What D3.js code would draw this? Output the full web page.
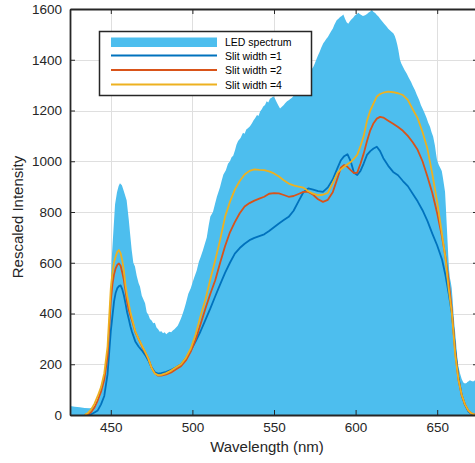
<!DOCTYPE html>
<html>
<head>
<meta charset="utf-8">
<script src="https://cdn.jsdelivr.net/npm/d3@7"></script>
<style>
  html, body { margin: 0; padding: 0; background: #fff; }
  svg { display: block; font-family: "Liberation Sans", Arial, sans-serif; }
</style>
</head>
<body>
<div id="chart"></div>
<script>
// ---------------- DATA ----------------
const xTicks = [450, 500, 550, 600, 650];
const yTicks = [0, 200, 400, 600, 800, 1000, 1200, 1400, 1600];

const legendLabels = ["LED spectrum", "Slit width =1", "Slit width =2", "Slit width =4"];

// LED spectrum (filled area)
const ledWavelength = [
  425,428,431,434,437,439,441,442.5,444,446,
  447.5,448.5,449.5,450.5,451.5,452.6,453.8,454.8,455.6,456.8,
  458,459.7,461,461.8,462.8,463.8,464.8,465.9,467,467.9,
  469,470,471,472,473,474,475,476,477,478,
  479,480,481,482,483,484,485,486,487,488,
  489,490,491,492,493,494,495,496,497.5,499,
  500,501,502.6,504,505,506.5,507.5,508.8,510,511,
  512.6,514,515,516.9,518,519,520.5,521.8,523,524,
  525,526.1,527,528,529.5,531,532,533,534,535.3,
  536.5,537.5,538.5,539.6,540.5,541.5,542.5,543.4,544.5,545.5,
  546.5,547.5,548.5,549.6,550.5,551.2,552.5,553.7,555,556,
  556.7,558,559,559.8,561,561.8,563,564,565,566,
  567,568,569,570,571,572,573,574.1,575,576,
  577,578,579,580.2,581,582,583,584.3,585,586,
  587,588.4,589.5,590.5,591.5,592.5,593.5,594.5,595.5,596.5,
  597.5,598.5,599.5,600.5,601.7,602.5,603.5,604.5,605.8,607,
  608,609,609.9,611,612,613,614,615,616.5,617.5,
  619.1,620,621,622,623.1,624,624.8,625.5,626.2,627.2,
  628,629,630,631.3,632.5,634,635,636.4,637.5,639,
  640,641.5,642.5,643.5,644.5,645.6,646.5,647.5,648.6,649.3,
  649.9,651,652,652.8,653.5,654.2,654.8,655.3,655.8,656.3,
  656.8,657.3,657.8,658.4,658.9,659.5,660,660.5,660.9,661.5,
  662,662.5,663,664,665,666,667,668,668.5,669.5,
  670,671,672,673,673.5,674.5,675
];
const ledIntensity = [
  35,33,31,28,27,30,40,70,118,155,
  240,330,420,610,715,830,878,902,913,905,
  882,846,770,716,650,600,585,548,520,505,
  470,455,440,405,395,378,372,362,364,345,
  338,328,330,322,326,318,324,328,326,333,
  338,345,352,366,380,398,418,440,478,500,
  520,540,568,605,622,650,672,700,748,782,
  800,835,860,898,925,948,965,990,1000,1016,
  1022,1043,1065,1080,1092,1112,1108,1125,1130,1138,
  1150,1162,1170,1182,1178,1196,1205,1216,1222,1236,
  1232,1246,1250,1256,1248,1238,1222,1208,1216,1222,
  1228,1236,1240,1244,1250,1256,1265,1276,1285,1294,
  1302,1312,1318,1330,1340,1352,1362,1372,1385,1402,
  1418,1432,1448,1465,1472,1482,1490,1504,1512,1522,
  1538,1556,1562,1568,1572,1578,1562,1548,1542,1552,
  1560,1566,1574,1578,1585,1580,1576,1572,1575,1580,
  1586,1590,1597,1588,1584,1576,1570,1562,1550,1542,
  1530,1522,1516,1510,1504,1494,1478,1460,1438,1400,
  1385,1372,1360,1346,1330,1312,1298,1280,1262,1240,
  1222,1201,1186,1170,1152,1136,1115,1098,1062,1030,
  1005,985,972,962,935,905,880,820,755,690,
  625,570,540,520,500,450,400,360,334,290,
  250,215,190,164,142,128,124,126,130,134,
  137,134,132,136,138,134,135
];

// Slit-width curves (shared wavelength grid)
const slitWavelength = [
  434,436,438,440,442,444,446,448,
  450,451,452,453,454,455,456,457,458,459,460,461,462,463,
  465,467,469,471,473,475,477,479,481,
  484,487,490,493,496,499,502,505,508,511,514,517,520,523,526,529,532,535,538,541,
  544,547,550,553,556,559,562,565,568,571,574,577,580,583,586,589,
  591,593,595,597,599,601,603,605,607,609,611,613,615,617,
  620,623,626,629,632,635,638,641,644,647,650,
  653,655,657,659,661,663,665,667,669,671,673
];
const slit1 = [
  0,0,3,10,18,42,75,160,
  330,390,448,482,500,508,511,496,472,440,405,378,350,327,
  290,270,255,237,215,187,168,163,165,
  170,178,188,200,223,255,290,330,375,420,468,515,560,600,636,658,675,689,698,705,
  712,725,740,755,768,781,805,842,878,893,888,882,879,897,928,975,
  1004,1020,1028,1000,955,946,962,992,1025,1040,1050,1057,1040,1012,
  982,958,945,922,902,872,842,807,765,715,668,
  612,552,480,400,260,150,80,40,15,4,0
];
const slit2 = [
  0,3,12,30,58,92,140,230,
  450,515,555,578,592,597,588,562,533,490,445,415,392,372,
  328,300,272,248,222,186,164,155,155,
  160,168,180,192,215,250,298,358,420,478,531,600,665,720,760,795,822,835,845,853,
  860,872,874,873,867,860,863,871,879,879,868,850,840,848,878,935,
  975,985,978,965,953,955,990,1031,1080,1122,1150,1168,1175,1172,
  1160,1148,1135,1120,1100,1075,1045,1000,940,875,795,
  700,625,530,410,250,140,78,42,18,6,2
];
const slit4 = [
  0,8,22,45,75,110,165,270,
  500,560,603,625,643,650,638,610,570,511,470,438,406,380,
  330,300,275,250,222,185,163,157,158,
  165,175,188,200,225,262,318,390,455,535,610,690,781,840,888,922,948,962,968,966,
  965,960,952,940,925,912,905,900,896,882,872,866,868,875,915,955,
  968,978,988,997,1010,1025,1060,1100,1160,1200,1228,1255,1265,1270,
  1274,1272,1268,1261,1242,1205,1170,1115,1050,950,840,
  710,620,500,400,240,140,80,42,18,6,2
];

// ---------------- DRAW ----------------
const W = 475, H = 463;
const pLeft = 70, pRight = 478, pTop = 9, pBottom = 415;
const ink = "#262626";
const fillColor = "#4DBEEE";
const lineColors = ["#0072BD", "#D95319", "#EDB120"];

const svg = d3.select("#chart").append("svg")
  .attr("width", W).attr("height", H);

svg.append("rect").attr("width", W).attr("height", H).attr("fill", "#fff");

const x = d3.scaleLinear().domain([425, 675]).range([pLeft, pRight]);
const y = d3.scaleLinear().domain([0, 1600]).range([pBottom, pTop]);

svg.append("defs").append("clipPath").attr("id", "plotclip")
  .append("rect").attr("x", pLeft).attr("y", pTop)
  .attr("width", pRight - pLeft).attr("height", pBottom - pTop);

// grid
const grid = svg.append("g").attr("stroke", "#dfdfdf").attr("stroke-width", 1);
xTicks.forEach(t => grid.append("line")
  .attr("x1", Math.round(x(t)) + 0.5).attr("x2", Math.round(x(t)) + 0.5)
  .attr("y1", pTop).attr("y2", pBottom));
yTicks.forEach(t => grid.append("line")
  .attr("y1", Math.round(y(t)) + 0.5).attr("y2", Math.round(y(t)) + 0.5)
  .attr("x1", pLeft).attr("x2", pRight));

const plot = svg.append("g").attr("clip-path", "url(#plotclip)");

const ledData = ledWavelength.map((w, i) => [w, ledIntensity[i]]);
plot.append("path")
  .datum(ledData)
  .attr("fill", fillColor)
  .attr("d", d3.area().x(d => x(d[0])).y0(y(0)).y1(d => y(d[1])));

const line = d3.line().x(d => x(d[0])).y(d => y(d[1]));
[slit1, slit2, slit4].forEach((s, k) => {
  plot.append("path")
    .datum(slitWavelength.map((w, i) => [w, s[i]]))
    .attr("fill", "none")
    .attr("stroke", lineColors[k])
    .attr("stroke-width", 1.8)
    .attr("stroke-linejoin", "round")
    .attr("d", line);
});

// axes
function styleAxis(g) {
  g.select(".domain").attr("stroke", ink).attr("stroke-width", 1.8);
  g.selectAll(".tick line").attr("stroke", ink).attr("stroke-width", 1);
  g.selectAll(".tick text").attr("fill", ink)
    .style("font-size", "13.5px")
    .style("font-family", '"Liberation Sans", Arial, sans-serif');
}
const fmt = d3.format("d");

svg.append("g").attr("transform", `translate(0,${pBottom})`)
  .call(d3.axisBottom(x).tickValues(xTicks).tickFormat(fmt).tickSizeInner(-5).tickSizeOuter(0).tickPadding(7))
  .call(styleAxis);
svg.append("g").attr("transform", `translate(0,${pTop})`)
  .call(d3.axisTop(x).tickValues(xTicks).tickSizeInner(-5).tickSizeOuter(0).tickFormat(""))
  .call(styleAxis);
svg.append("g").attr("transform", `translate(${pLeft},0)`)
  .call(d3.axisLeft(y).tickValues(yTicks).tickFormat(fmt).tickSizeInner(-5).tickSizeOuter(0).tickPadding(8))
  .call(styleAxis);
svg.append("g").attr("transform", `translate(${pRight},0)`)
  .call(d3.axisRight(y).tickValues(yTicks).tickSizeInner(-5).tickSizeOuter(0).tickFormat(""))
  .call(styleAxis);

// axis labels
svg.append("text")
  .attr("x", 267).attr("y", 452)
  .attr("text-anchor", "middle")
  .attr("fill", ink)
  .style("font-size", "15px")
  .text("Wavelength (nm)");
svg.append("text")
  .attr("transform", "translate(23,217) rotate(-90)")
  .attr("text-anchor", "middle")
  .attr("fill", ink)
  .style("font-size", "15px")
  .text("Rescaled Intensity");

// legend
const lg = svg.append("g");
lg.append("rect")
  .attr("x", 99.5).attr("y", 31.5).attr("width", 212).attr("height", 64)
  .attr("fill", "#fff").attr("stroke", ink).attr("stroke-width", 1.5);
lg.append("rect")
  .attr("x", 111).attr("y", 37.5).attr("width", 106).attr("height", 9.5)
  .attr("fill", fillColor);
const lineYs = [55.5, 70, 84.5];
lineYs.forEach((ly, k) => {
  lg.append("line").attr("x1", 111).attr("x2", 217).attr("y1", ly).attr("y2", ly)
    .attr("stroke", lineColors[k]).attr("stroke-width", 1.8);
});
const textYs = [46, 59.5, 74, 88.5];
legendLabels.forEach((t, k) => {
  lg.append("text").attr("x", 225).attr("y", textYs[k])
    .attr("fill", "#000")
    .style("font-size", "10.5px")
    .text(t);
});
</script>
</body>
</html>
